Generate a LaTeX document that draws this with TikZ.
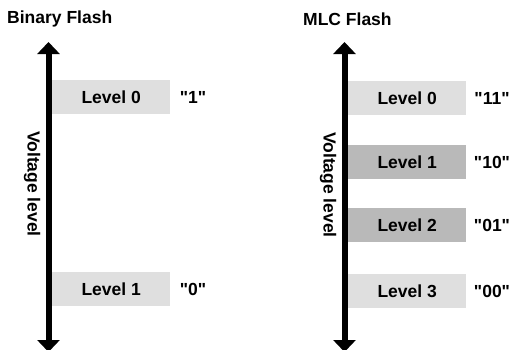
\documentclass[tikz,border=0pt]{standalone}
\usepackage{fontspec}
\setmainfont{Liberation Sans}[Ligatures=TeXOff]
\usetikzlibrary{arrows.meta}

\begin{document}
\begin{tikzpicture}[x=1pt, y=-1pt]
    \tikzstyle{level} = [rectangle, fill=gray!25, minimum width=118pt, minimum height=34pt, inner sep=0pt,
                                      anchor=west, font=\bfseries\fontsize{17.5}{17.5}\selectfont]
    \tikzstyle{dark} = [level, fill=gray!55]
    \tikzstyle{bits} = [font=\bfseries\fontsize{17.5}{17.5}\selectfont]
    \tikzstyle{title} = [anchor=west, inner sep=0pt, font=\bfseries\fontsize{17.5}{17.5}\selectfont]
    \tikzstyle{axis} = [line width=6pt, {Triangle[width=22pt,length=12pt]}-{Triangle[width=22pt,length=12pt]}]
  \useasboundingbox (0,0) rectangle (511,349);
  % binary flash
  \node[title](bintitle) at (7,19){Binary Flash};
  \coordinate (bintop) at (48.5,42);
  \coordinate (binbot) at (48.5,352);
  \draw[axis] (binbot) -- (bintop);
  \node[rotate=-90, bits](binvolt) at (32,184){Voltage level};
  \node[level](bin0) at (52,97){Level 0};
  \node[level](bin1) at (52,289){Level 1};
  \node[bits](binbit0) at (193,97){"1"};
  \node[bits](binbit1) at (193,289){"0"};
  % mlc flash
  \node[title](mlctitle) at (303,19){MLC Flash};
  \coordinate (mlctop) at (344.5,42);
  \coordinate (mlcbot) at (344.5,352);
  \draw[axis] (mlcbot) -- (mlctop);
  \node[rotate=-90, bits](mlcvolt) at (328,185){Voltage level};
  \node[level](mlc0) at (348,98){Level 0};
  \node[dark](mlc1) at (348,162){Level 1};
  \node[dark](mlc2) at (348,225){Level 2};
  \node[level](mlc3) at (348,291){Level 3};
  \node[bits](mlcbit0) at (492,98){"11"};
  \node[bits](mlcbit1) at (492,162){"10"};
  \node[bits](mlcbit2) at (492,225){"01"};
  \node[bits](mlcbit3) at (492,291){"00"};
\end{tikzpicture}
\end{document}
